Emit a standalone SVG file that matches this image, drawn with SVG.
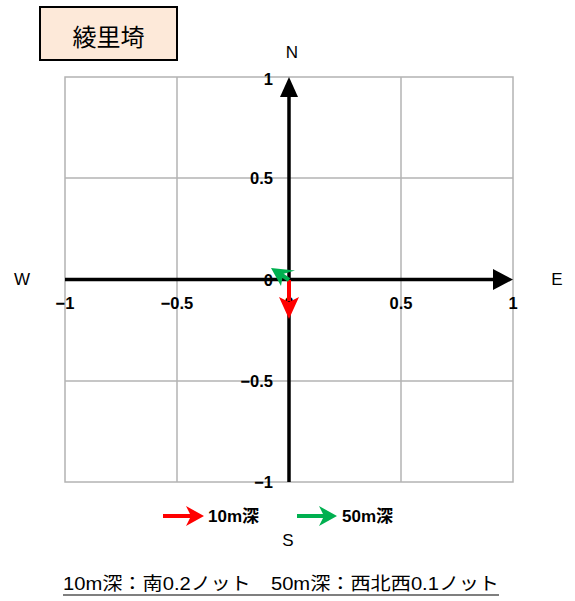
<svg xmlns="http://www.w3.org/2000/svg" width="575" height="601" viewBox="0 0 575 601">
<style>
.grid{stroke:#b3b3b3;stroke-width:1.5;fill:none}
.axis{stroke:#000;stroke-width:3.5;fill:none}
.tick{font-family:"Liberation Sans",Arial,sans-serif;font-weight:bold;font-size:16.5px;fill:#000}
.dir{font-family:"Liberation Sans",Arial,sans-serif;font-size:17px;fill:#000}
.leg{font-family:"Liberation Sans","Noto Sans CJK JP",sans-serif;font-weight:bold;font-size:17px;fill:#000}
.cap{font-family:"Liberation Sans","Noto Sans CJK JP",sans-serif;font-size:18px;fill:#000}
</style>
<rect width="575" height="601" fill="#fff"/>
<g id="title">
<rect x="40" y="7" width="137" height="53" fill="#fde9d9" stroke="#000" stroke-width="2"/>
<text x="108.5" y="46" text-anchor="middle" font-family="'Noto Sans CJK JP',sans-serif" font-size="24" fill="#000">綾里埼</text>
</g>
<g id="grid">
<rect class="grid" x="65" y="77" width="448" height="405"/>
<line class="grid" x1="177" y1="77" x2="177" y2="482"/>
<line class="grid" x1="401" y1="77" x2="401" y2="482"/>
<line class="grid" x1="65" y1="178" x2="513" y2="178"/>
<line class="grid" x1="65" y1="381" x2="513" y2="381"/>
</g>
<g id="axes">
<line class="axis" x1="65" y1="279.5" x2="496" y2="279.5"/>
<polygon points="513,279.5 493,269 493,290" fill="#000"/>
<line class="axis" x1="289" y1="482" x2="289" y2="95"/>
<polygon points="289,77 280,97 298,97" fill="#000"/>
</g>
<g id="ticklabels" class="tick">
<text x="273" y="85" text-anchor="end">1</text>
<text x="273" y="184" text-anchor="end">0.5</text>
<text x="273" y="286" text-anchor="end">0</text>
<text x="273" y="387" text-anchor="end">−0.5</text>
<text x="273" y="488" text-anchor="end">−1</text>
<text x="65" y="309" text-anchor="middle">−1</text>
<text x="177" y="309" text-anchor="middle">−0.5</text>
<text x="289" y="309" text-anchor="middle">0</text>
<text x="401" y="309" text-anchor="middle">0.5</text>
<text x="513" y="309" text-anchor="middle">1</text>
</g>
<g id="directions" class="dir">
<text x="292" y="58" text-anchor="middle">N</text>
<text x="557" y="285" text-anchor="middle">E</text>
<text x="22" y="285" text-anchor="middle">W</text>
<text x="288" y="546" text-anchor="middle">S</text>
</g>
<g id="connectors">
<g id="arrow10">
<line x1="289" y1="280" x2="289" y2="301" stroke="#ff0000" stroke-width="4"/>
<polygon points="289,319 279,297 289,302 299,297" fill="#ff0000"/>
</g>
<g id="arrow50">
<line x1="289" y1="280" x2="279" y2="273" stroke="#00b050" stroke-width="4"/>
<polygon points="271,268 295,270.5 283,274 281,286" fill="#00b050"/>
</g>
</g>
<g id="legend">
<line x1="163" y1="516" x2="192" y2="516" stroke="#ff0000" stroke-width="4"/>
<polygon points="204,516 186,506 191,516 186,526" fill="#ff0000"/>
<text class="leg" x="208" y="522">10m深</text>
<line x1="297" y1="516" x2="326" y2="516" stroke="#00b050" stroke-width="4"/>
<polygon points="337,516 319,506 324,516 319,526" fill="#00b050"/>
<text class="leg" x="342" y="522">50m深</text>
</g>
<g id="caption">
<text class="cap" x="63" y="590" textLength="436" lengthAdjust="spacingAndGlyphs">10m深：南0.2ノット　50m深：西北西0.1ノット</text>
<line x1="63" y1="595" x2="499" y2="595" stroke="#000" stroke-width="1.2"/>
</g>
</svg>
